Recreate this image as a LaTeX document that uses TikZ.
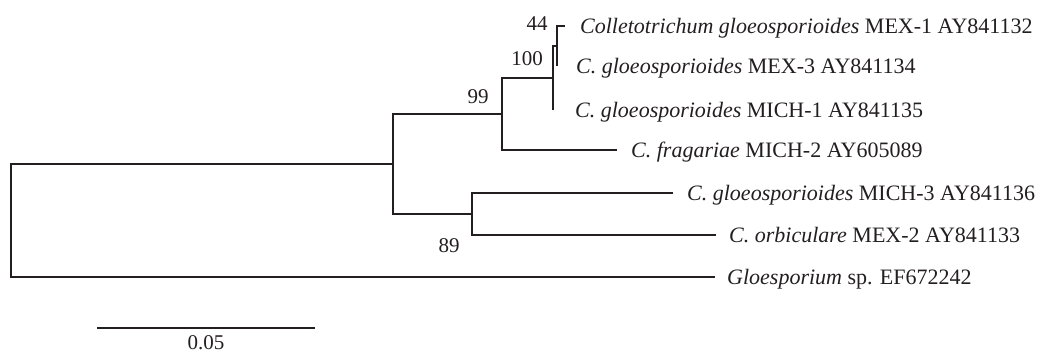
\documentclass[tikz,border=0pt]{standalone}
\usepackage{fontspec}
\setmainfont{Liberation Serif}
\definecolor{ink}{RGB}{35,31,32}
\begin{document}
\begin{tikzpicture}[x=1pt,y=-1pt,
  branch/.style={draw=ink,line width=2.2pt,line join=miter},
  taxon/.style={anchor=base west,inner sep=0pt,text=ink,font=\fontsize{22}{26}\selectfont},
  boot/.style={anchor=center,inner sep=0pt,text=ink,font=\fontsize{21}{25}\selectfont}]
\useasboundingbox (0,0) rectangle (1039,354);
% internal nodes
\coordinate (root) at (11,221);
\coordinate (nA) at (393,164);
\coordinate (n99) at (502,114);
\coordinate (n89) at (472,214);
\coordinate (n100) at (553,78);
\coordinate (n44) at (557,46);
% leaves
\coordinate (lmex1) at (565,26);
\coordinate (lmex3) at (557,66);
\coordinate (lmich1) at (553,110);
\coordinate (lfrag) at (617,150);
\coordinate (lmich3) at (673,193);
\coordinate (lorb) at (716,235);
\coordinate (lglo) at (715,277);
% branches
\draw[branch] (root) |- (nA);
\draw[branch] (root) |- (lglo);
\draw[branch] (nA) |- (n99);
\draw[branch] (nA) |- (n89);
\draw[branch] (n99) |- (n100);
\draw[branch] (n99) |- (lfrag);
\draw[branch] (n100) |- (n44);
\draw[branch] (n100) |- (lmich1);
\draw[branch] (n44) |- (lmex1);
\draw[branch] (n44) |- (lmex3);
\draw[branch] (n89) |- (lmich3);
\draw[branch] (n89) |- (lorb);
% taxa
\node[taxon] (tmex1) at (580,33) {\textit{Colletotrichum gloeosporioides} MEX-1 AY841132};
\node[taxon] (tmex3) at (576,73) {\textit{C. gloeosporioides} MEX-3 AY841134};
\node[taxon] (tmich1) at (575,117) {\textit{C. gloeosporioides} MICH-1 AY841135};
\node[taxon] (tfrag) at (631,157) {\textit{C. fragariae} MICH-2 AY605089};
\node[taxon] (tmich3) at (687,200) {\textit{C. gloeosporioides} MICH-3 AY841136};
\node[taxon] (torb) at (729,242) {\textit{C. orbiculare} MEX-2 AY841133};
\node[taxon] (tglo) at (727,284) {\textit{Gloesporium} sp. EF672242};
% bootstrap values
\node[boot] (b44) at (537,24) {44};
\node[boot] (b100) at (527,59) {100};
\node[boot] (b99) at (478,97) {99};
\node[boot] (b89) at (449,246) {89};
% scale bar
\coordinate (s1) at (97,328);
\coordinate (s2) at (315,328);
\draw[branch] (s1) -- (s2);
\node[boot] (sl) at (206,343) {0.05};
\end{tikzpicture}
\end{document}
